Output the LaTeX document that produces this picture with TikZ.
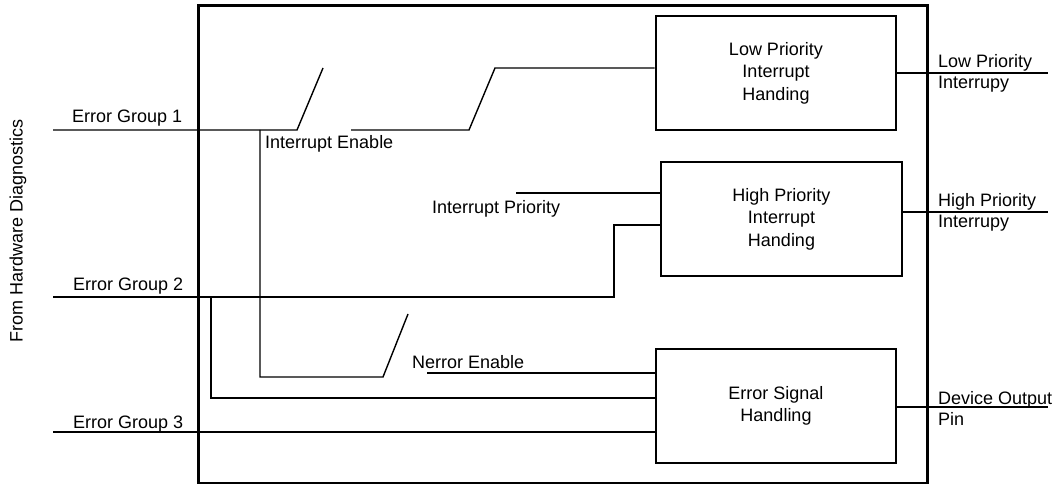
\documentclass[tikz,border=0pt]{standalone}
\usepackage{fontspec}
\setmainfont{Liberation Sans}
\usetikzlibrary{positioning,calc}

\begin{document}
\begin{tikzpicture}[x=1pt,y=-1pt,
    every node/.style={font=\fontsize{18}{22.5}\selectfont},
    block/.style={draw,line width=2.6pt,minimum width=240pt,minimum height=114pt,align=center,inner sep=0pt},
    wire/.style={line width=1.4pt},
    lbl/.style={inner sep=0pt,anchor=base west},
    outlbl/.style={inner sep=0pt,anchor=west,align=left,font=\fontsize{18}{21}\selectfont}]
			%%%%% START %%%%%
			
			\useasboundingbox (0,0) rectangle (1060,484);
			\draw[line width=3pt] (198,6) rectangle (927,483);
			
			\node[block] (lp) at (776,73) {Low Priority\\Interrupt\\Handing};
			\node[block,minimum width=241pt] (hp) at (781.5,219) {High Priority\\Interrupt\\Handing};
			\node[block] (es) at (776,406) {Error Signal\\Handling};
			
			\coordinate (g1) at (53,130);
			\coordinate (sw1) at (297,130);
			\coordinate (sw1top) at (323,68);
			\coordinate (c1) at (351,130);
			\coordinate (sw2) at (469,130);
			\coordinate (sw2top) at (495,68);
			\coordinate (tap1) at (260,130);
			\coordinate (sw3) at (383,377);
			\coordinate (sw3top) at (408,314);
			\coordinate (ne) at (427,373);
			\coordinate (g2) at (53,297);
			\coordinate (bend2) at (614,297);
			\coordinate (tap2) at (211,297);
			\coordinate (g3) at (53,432);
			\coordinate (ip) at (516,193);
			\coordinate (lpout) at (1048,73);
			\coordinate (hpout) at (1048,212);
			\coordinate (esout) at (1048,407);
			
			% error group 1 and the two enables
			\draw[wire] (g1) -- (sw1) -- (sw1top);
			\draw[wire] (c1) -- (sw2) -- (sw2top) -- (sw2top -| lp.west);
			\draw[wire] (tap1) |- (sw3) -- (sw3top);
			\draw[wire] (ne) -- (ne -| es.west);
			
			% error group 2 and 3
			\draw[wire] (g2) -- (bend2) |- ($(hp.west)+(0,6)$);
			\draw[wire] (tap2) |- ($(es.west)+(0,-8)$);
			\draw[wire] (g3) -- (g3 -| es.west);
			\draw[wire] (ip) -- (ip -| hp.west);
			
			% outputs
			\draw[wire] (lpout -| lp.east) -- (lpout);
			\draw[wire] (hpout -| hp.east) -- (hpout);
			\draw[wire] (esout -| es.east) -- (esout);
			
			\node[lbl] (g1lbl) at (72,123) {Error Group 1};
			\node[lbl] (g2lbl) at (73,290) {Error Group 2};
			\node[lbl] (g3lbl) at (73,428) {Error Group 3};
			\node[lbl] (ielbl) at (265,149) {Interrupt Enable};
			\node[lbl] (iplbl) at (432,213) {Interrupt Priority};
			\node[lbl] (nelbl) at (412,368) {Nerror Enable};
			
			\node[outlbl] (lplbl) at (938,73) {Low Priority\\Interrupy};
			\node[outlbl] (hplbl) at (938,212) {High Priority\\Interrupy};
			\node[outlbl] (eslbl) at (938,408) {Device Output\\Pin};
			
			\node[rotate=90] (src) at (18,231) {From Hardware Diagnostics};
			
			%%%%% END %%%%%
\end{tikzpicture}
\end{document}
